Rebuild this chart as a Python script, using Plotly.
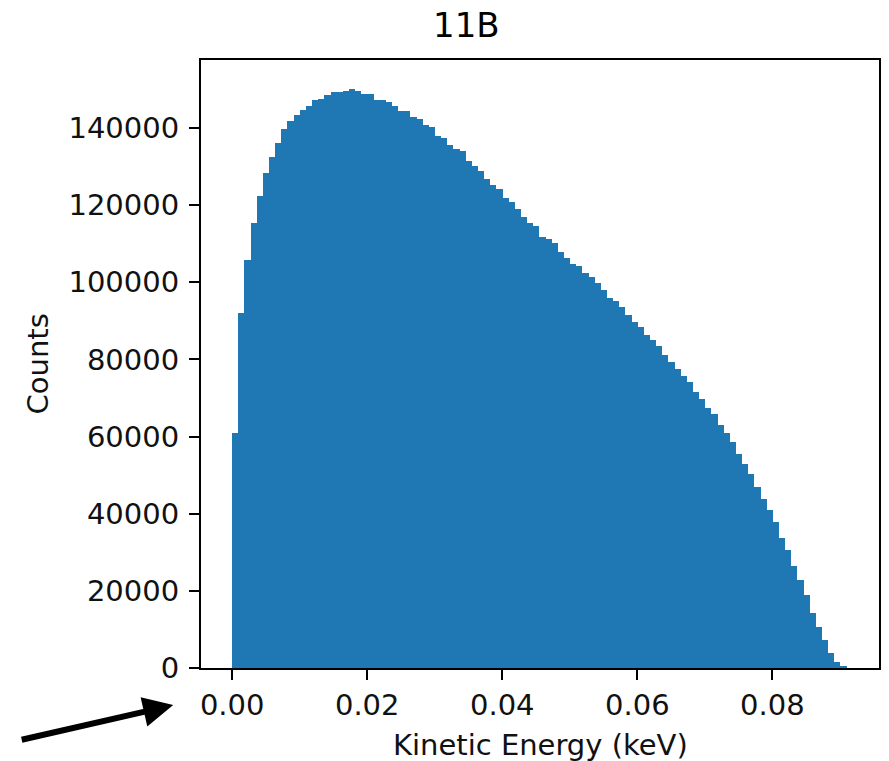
import numpy as np
import plotly.graph_objects as go

# Histogram data (counts per bin), 100 equal bins
bin_start = 0.0
bin_end = 0.0910
counts = [
    60900, 92000, 105800, 115400, 122400, 128400, 132400, 136200, 139600, 141800,
    143400, 144600, 145700, 147200, 147400, 148400, 149400, 149400, 149500, 150000,
    149500, 148900, 148800, 147300, 147300, 146700, 145700, 144500, 144400, 142800,
    142300, 140700, 140200, 138000, 137300, 135600, 134500, 134000, 131300, 130200,
    128700, 126800, 125200, 124100, 121800, 120800, 118900, 116800, 115300, 114600,
    111800, 111200, 110100, 107900, 106400, 104700, 104100, 102500, 101300, 99700,
    98000, 95900, 95200, 93500, 91400, 89800, 88500, 86300, 85000, 83500,
    81200, 79200, 77600, 75800, 74100, 71500, 69700, 67500, 65800, 63000,
    60900, 58500, 55400, 52900, 50300, 47000, 43700, 41000, 37800, 33800,
    30600, 26500, 22800, 18800, 14300, 10500, 7300, 4000, 1600, 500,
]
x_tick_vals = [0.00, 0.02, 0.04, 0.06, 0.08]
x_tick_text = ["0.00", "0.02", "0.04", "0.06", "0.08"]
y_tick_vals = [0, 20000, 40000, 60000, 80000, 100000, 120000, 140000]
y_tick_text = ["0", "20000", "40000", "60000", "80000", "100000", "120000", "140000"]
title_text = "11B"
x_label = "Kinetic Energy (keV)"
y_label = "Counts"

edges = np.linspace(bin_start, bin_end, len(counts) + 1)
centers = (edges[:-1] + edges[1:]) / 2
width = edges[1] - edges[0]

FONT = "DejaVu Sans"

fig = go.Figure()
fig.add_trace(go.Bar(
    x=centers, y=counts, width=width,
    marker=dict(color="#1f77b4", line=dict(width=0)),
    hoverinfo="x+y",
))

axis_common = dict(
    showline=True, linecolor="black", linewidth=2, mirror=True,
    ticks="outside", ticklen=10, tickwidth=2, tickcolor="black",
    showgrid=False, zeroline=False,
    tickfont=dict(family=FONT, size=29, color="#111111"),
)

fig.update_layout(
    width=889, height=761,
    margin=dict(l=201, r=8, t=60, b=93),
    paper_bgcolor="white", plot_bgcolor="white",
    bargap=0, showlegend=False,
    font=dict(family=FONT, color="black"),
    xaxis=dict(range=[-0.00462, 0.0958], tickvals=x_tick_vals, ticktext=x_tick_text, **axis_common),
    yaxis=dict(range=[0, 157600], tickvals=y_tick_vals, ticktext=y_tick_text,
               ticklabelstandoff=4, **axis_common),
    annotations=[
        dict(text=title_text, x=0.391, y=1.0576, xref="paper", yref="paper",
             xanchor="center", yanchor="middle", showarrow=False,
             font=dict(family=FONT, size=34, color="black")),
        dict(text=x_label, x=0.5, y=-0.1266, xref="paper", yref="paper",
             xanchor="center", yanchor="middle", showarrow=False,
             font=dict(family=FONT, size=29, color="#111111")),
        dict(text=y_label, x=-0.2397, y=0.5, xref="paper", yref="paper",
             xanchor="center", yanchor="middle", showarrow=False, textangle=-90,
             font=dict(family=FONT, size=29, color="#111111")),
        dict(text="", x=-0.041, y=-0.061, xref="paper", yref="paper",
             ax=-153, ay=35, axref="pixel", ayref="pixel",
             showarrow=True, arrowhead=2, arrowsize=1.0, arrowwidth=6,
             arrowcolor="black"),
    ],
)

fig.write_html("out.html")
